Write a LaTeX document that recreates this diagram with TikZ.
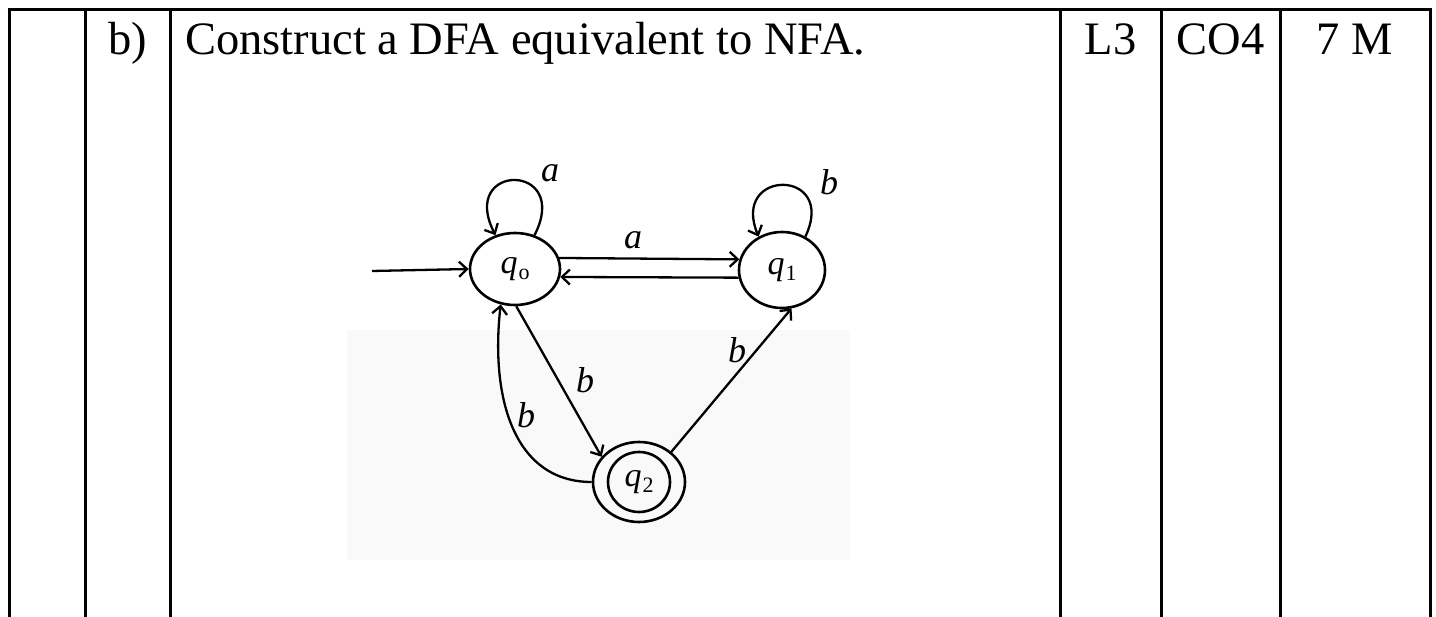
\documentclass[tikz,border=0pt]{standalone}
\usepackage{fontspec}
\setmainfont{Liberation Serif}
\usetikzlibrary{arrows.meta,shapes.geometric}
\newcommand{\qst}[1]{\textit{q}\kern1pt\raisebox{-6pt}{\fontsize{22}{24}\selectfont #1}}
\begin{document}
\begin{tikzpicture}[x=1pt,y=-1pt,
  grid/.style={line width=3pt},
  head/.style={font=\fontsize{46.5}{50}\selectfont, anchor=base, inner sep=0pt},
  state/.style={ellipse, draw, line width=2.6pt, inner sep=0pt, font=\fontsize{34}{36}\selectfont},
  edge/.style={line width=2.3pt, -{Straight Barb[length=8pt,width=15pt]}},
  lbl/.style={font=\fontsize{36}{38}\selectfont\itshape, inner sep=0pt}]
\useasboundingbox (0,0) rectangle (1436,617);
\fill[black!2.5] (347,330) rectangle (850,560);
% table
\draw[grid] (7.5,10) -- (1431.5,10);
\foreach \xx in {9,85,170,1060,1161,1280,1430}
  \draw[grid] (\xx,10) -- (\xx,620);
% header texts
\node[head] (b) at (127.5,55) {b)};
\node[head, anchor=base west] (t) at (185,55) {Construct a DFA equivalent to NFA.};
\node[head] (l) at (1110.5,55) {L3};
\node[head] (co) at (1220.5,55) {CO4};
\node[head] (m) at (1355,55) {7 M};
% states
\node[state, minimum width=90pt, minimum height=72pt] (q0) at (515,269) {\qst{o}};
\node[state, minimum width=86pt, minimum height=76pt] (q1) at (782,270) {\qst{1}};
\node[state, minimum width=92pt, minimum height=80pt] (q2) at (639,482) {\qst{2}};
\draw[line width=2.6pt] (q2.center) ellipse [x radius=31, y radius=30];
% start
\coordinate (s) at (372,271);
\draw[edge] (s) -- (q0.west);
% loops
\draw[edge] (q0.60) .. controls (572,162) and (458,162) .. (q0.120);
\draw[edge] (q1.55) .. controls (838,168) and (730,168) .. (q1.125);
% edges
\draw[edge] (q0.14) -- (q1.166);
\draw[edge] (q1.190) -- (q0.-10);
\draw[edge] (q0.-88) -- (q2.146);
\draw[edge] (q2.180) .. controls (515,482) and (490,400) .. (q0.-112);
\draw[edge] (q2.43) -- (q1.-76);
% labels
\node[lbl] (la1) at (550,173) {a};
\node[lbl] (lb1) at (829,182) {b};
\node[lbl] (la2) at (633,240) {a};
\node[lbl] (lb2) at (585,380) {b};
\node[lbl] (lb3) at (526,415) {b};
\node[lbl] (lb4) at (737,350) {b};
\end{tikzpicture}
\end{document}
